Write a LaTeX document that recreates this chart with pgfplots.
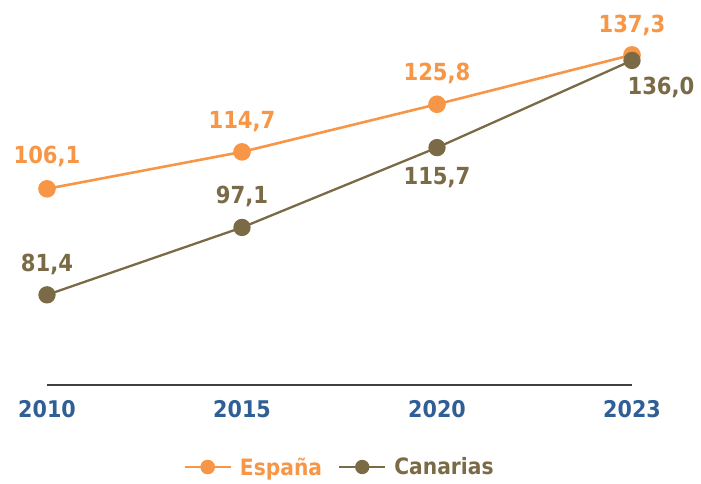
\documentclass[border=0pt]{standalone}
\usepackage{pgfplots}
\usepackage{pgfplotstable}
\pgfplotsset{compat=1.18}
\usepackage{fontspec}
\setmainfont{DejaVu Sans Condensed}[BoldFont={DejaVu Sans Condensed Bold}]
\definecolor{esp}{HTML}{F79646}
\definecolor{can}{HTML}{7A6A45}
\definecolor{yr}{HTML}{2F5F95}
\definecolor{ax}{HTML}{404040}

\pgfplotstableread{
x y lab dx dy
0 106.1 106,1 0 32
1 114.7 114,7 0 30.5
2 125.8 125,8 0 31
3 137.3 137,3 0 29
}\espana
\pgfplotstableread{
x y lab dx dy
0 81.4 81,4 0 30.5
1 97.1 97,1 0 31
2 115.7 115,7 0 -29.5
3 136.0 136,0 29 -26.5
}\canarias

\begin{document}
\begin{tikzpicture}
\begin{axis}[
  at={(0,0)}, anchor=south west,
  scale only axis, width=585pt, height=341.7pt,
  xmin=0, xmax=3, ymin=60.4, ymax=140,
  clip=false,
  axis x line=bottom, axis y line=none,
  x axis line style={draw=ax, line width=1.6pt, -},
  xtick={0,1,2,3}, xticklabels={2010,2015,2020,2023},
  major tick length=0pt,
  xticklabel style={font=\fontsize{23}{26}\selectfont\bfseries, text=yr, yshift=-12pt},
  /pgf/number format/assume math mode=true,
  point meta=explicit symbolic,
  nodes near coords={\pgfplotspointmeta},
  visualization depends on={\thisrow{dx} \as \dx},
  visualization depends on={\thisrow{dy} \as \dy},
  nodes near coords style={anchor=center, xshift=\dx pt, yshift=\dy pt, font=\fontsize{23.5}{27}\selectfont\bfseries},
  legend columns=2,
  legend style={at={(axis description cs:0.5,-0.24)}, anchor=center, draw=none, fill=none,
    font=\fontsize{22.5}{26}\selectfont\bfseries,
    /tikz/every odd column/.append style={column sep=6pt},
    /tikz/every even column/.append style={column sep=14pt}},
  legend image code/.code={\draw[mark repeat=2,mark phase=2,mark size=6pt] plot coordinates {(0pt,0pt) (23pt,0pt) (46pt,0pt)};},
]
\addplot[esp, line width=2.6pt, mark=*, mark size=7.5pt, mark options={solid, fill=esp, draw=esp}, nodes near coords style={text=esp}]
  table[x=x, y=y, meta=lab] {\espana};
\addlegendentry{\textcolor{esp}{España}}
\addplot[can, line width=2.3pt, mark=*, mark size=7.5pt, mark options={solid, fill=can, draw=can}, nodes near coords style={text=can}]
  table[x=x, y=y, meta=lab] {\canarias};
\addlegendentry{\textcolor{can}{Canarias}}
\end{axis}
\pgfresetboundingbox
\path (-47pt,-98pt) rectangle (654pt,385pt);
\end{tikzpicture}
\end{document}
